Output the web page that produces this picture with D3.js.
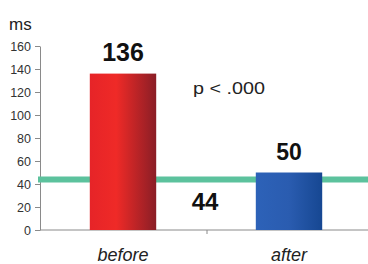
<!DOCTYPE html>
<html>
<head>
<meta charset="utf-8">
<script src="https://cdn.jsdelivr.net/npm/d3@7"></script>
<style>
  body { margin: 0; background: #fff; }
  text { font-family: "Liberation Sans", Arial, sans-serif; }
</style>
</head>
<body>
<div id="chart"></div>
<script>
// Data
var categories = ["before", "after"];
var values = [136, 50];
var baseline = 44;
var yTicks = [0, 20, 40, 60, 80, 100, 120, 140, 160];

var svgWidth = 368;
var svgHeight = 264;

var svg = d3.select("#chart")
  .append("svg")
  .attr("width", svgWidth)
  .attr("height", svgHeight);

var defs = svg.append("defs");
var red = defs.append("linearGradient").attr("id", "gRed");
red.append("stop").attr("offset", "0%").attr("stop-color", "#e62428");
red.append("stop").attr("offset", "40%").attr("stop-color", "#ef2a27");
red.append("stop").attr("offset", "100%").attr("stop-color", "#8a1e26");
var blue = defs.append("linearGradient").attr("id", "gBlue");
blue.append("stop").attr("offset", "0%").attr("stop-color", "#2d62b8");
blue.append("stop").attr("offset", "50%").attr("stop-color", "#2a5cb0");
blue.append("stop").attr("offset", "100%").attr("stop-color", "#164792");

var xScale = d3.scaleBand()
  .domain(categories)
  .range([40, 372])
  .paddingInner(0.6)
  .paddingOuter(0.3);

var yScale = d3.scaleLinear()
  .domain([0, 160])
  .range([230, 46]);

// y axis
var yAxis = d3.axisLeft(yScale).tickValues(yTicks).tickSize(5).tickSizeOuter(0).tickPadding(4);
var gy = svg.append("g").attr("transform", "translate(40,0)").call(yAxis);
gy.select(".domain").attr("stroke", "#8a8a8a");
gy.selectAll(".tick line").attr("stroke", "#8a8a8a");
gy.selectAll(".tick text").attr("font-size", 12.5).attr("fill", "#333")
  .style("font-family", "'Liberation Sans', Arial, sans-serif");

// x axis line with center tick
svg.append("line").attr("x1", 40).attr("x2", 368)
  .attr("y1", yScale(0)).attr("y2", yScale(0)).attr("stroke", "#8a8a8a");
svg.append("line").attr("x1", 207).attr("x2", 207)
  .attr("y1", yScale(0)).attr("y2", yScale(0) + 4).attr("stroke", "#8a8a8a");

// baseline (green line)
svg.append("line")
  .attr("x1", 38).attr("x2", 368)
  .attr("y1", yScale(baseline)).attr("y2", yScale(baseline))
  .attr("stroke", "#5cc29d").attr("stroke-width", 6);

// bars, drawn over the green line
svg.selectAll("rect.bar")
  .data(values)
  .enter()
  .append("rect")
  .attr("class", "bar")
  .attr("x", (d, i) => xScale(categories[i]))
  .attr("y", d => yScale(d))
  .attr("width", xScale.bandwidth())
  .attr("height", d => yScale(0) - yScale(d))
  .attr("fill", (d, i) => i === 0 ? "url(#gRed)" : "url(#gBlue)");

// value labels
svg.selectAll("text.val")
  .data(values)
  .enter()
  .append("text")
  .attr("class", "val")
  .attr("x", (d, i) => xScale(categories[i]) + xScale.bandwidth() / 2)
  .attr("y", d => yScale(d) - 13)
  .attr("text-anchor", "middle")
  .attr("font-size", (d, i) => i === 0 ? 25 : 23)
  .attr("font-weight", "bold")
  .attr("fill", "#111")
  .text(d => d);

svg.append("text")
  .attr("x", 205).attr("y", 210)
  .attr("text-anchor", "middle")
  .attr("font-size", 24).attr("font-weight", "bold").attr("fill", "#111")
  .text(baseline);

// category labels
svg.selectAll("text.cat")
  .data(categories)
  .enter()
  .append("text")
  .attr("class", "cat")
  .attr("x", d => xScale(d) + xScale.bandwidth() / 2)
  .attr("y", 261)
  .attr("text-anchor", "middle")
  .attr("font-size", 18)
  .attr("font-style", "italic")
  .attr("fill", "#222")
  .text(d => d);

svg.append("text").attr("x", 193).attr("y", 94)
  .attr("font-size", 16).attr("fill", "#222")
  .attr("textLength", 72).attr("lengthAdjust", "spacingAndGlyphs")
  .text("p < .000");

svg.append("text").attr("x", 9).attr("y", 30)
  .attr("font-size", 17).attr("fill", "#222").text("ms");
</script>
</body>
</html>
